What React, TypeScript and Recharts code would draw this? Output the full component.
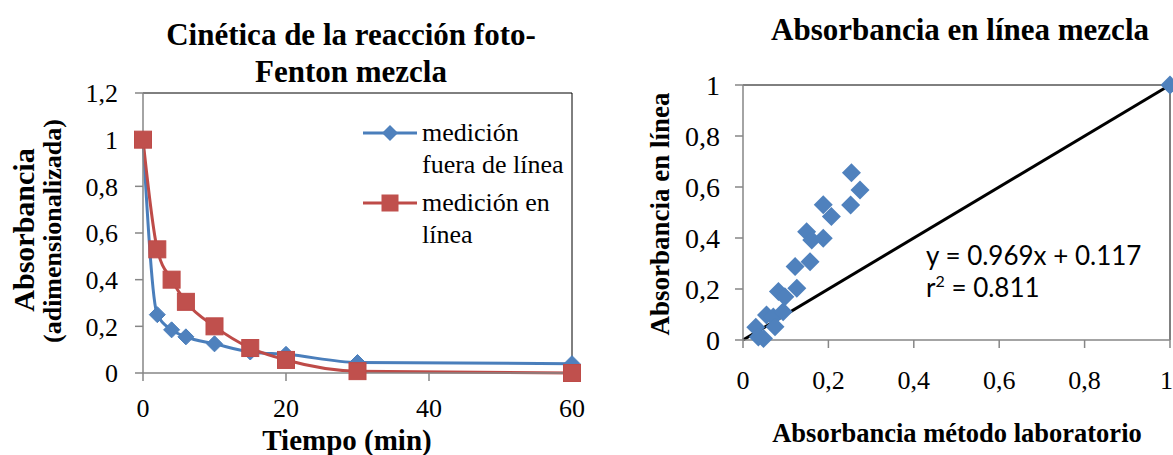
import {
  Legend,
  Line,
  LineChart,
  ReferenceLine,
  Scatter,
  ScatterChart,
  XAxis,
  YAxis,
} from "recharts";

// Cinética de la reacción foto-Fenton mezcla
const tiempo = [0, 2, 4, 6, 10, 15, 20, 30, 60];
const fueraDeLinea = [1, 0.25, 0.185, 0.155, 0.125, 0.09, 0.08, 0.045, 0.04];
const enLinea = [1, 0.53, 0.4, 0.305, 0.2, 0.107, 0.056, 0.008, 0.0];
const tiempoTicks = [0, 20, 40, 60];
const absTicks = [0, 0.2, 0.4, 0.6, 0.8, 1, 1.2];

// Absorbancia en línea mezcla
const metodoLab = [
  0.03, 0.036, 0.048, 0.055, 0.071, 0.075, 0.083, 0.094, 0.098, 0.122, 0.126,
  0.149, 0.157, 0.161, 0.188, 0.188, 0.207, 0.252, 0.254, 0.274, 1.0,
];
const medidaEnLinea = [
  0.05, 0.012, 0.006, 0.098, 0.09, 0.052, 0.19, 0.111, 0.17, 0.288, 0.203,
  0.425, 0.307, 0.392, 0.53, 0.399, 0.484, 0.529, 0.656, 0.588, 1.0,
];
const unitTicks = [0, 0.2, 0.4, 0.6, 0.8, 1];
const trendX = [0, 1];
const trendY = [0, 1];

const SERIF = '"Liberation Serif", "Times New Roman", serif';
const BLUE = "#4A7EBB";
const BLUE_FILL = "#4F81BD";
const RED = "#BE4B48";
const RED_FILL = "#C0504D";
const AXIS = "#868686";

const comma = (v: number) => String(v).replace(".", ",");

const kinetics = tiempo.map((t, i) => ({
  t,
  fuera: fueraDeLinea[i],
  linea: enLinea[i],
}));
const scatterRows = metodoLab.map((x, i) => ({ x, y: medidaEnLinea[i] }));

function diamond(cx: number, cy: number, r: number) {
  return `M${cx},${cy - r}L${cx + r},${cy}L${cx},${cy + r}L${cx - r},${cy}Z`;
}

const blueDot = (p: any) => (
  <path key={`b${p.index}`} d={diamond(p.cx, p.cy, 8)} fill={BLUE_FILL} stroke={BLUE} strokeWidth={1} />
);
const redDot = (p: any) => (
  <rect key={`r${p.index}`} x={p.cx - 8.5} y={p.cy - 8.5} width={17} height={17} fill={RED_FILL} stroke={RED} strokeWidth={1} />
);

const tickStyle = (size: number) => ({ fill: "#000", fontSize: size, fontFamily: SERIF });

function KineticsLegend() {
  const items = [
    { color: BLUE, marker: "d", lines: ["medición", "fuera de línea"] },
    { color: RED, marker: "s", lines: ["medición en", "línea"] },
  ];
  return (
    <div style={{ fontFamily: SERIF }}>
      {items.map((it) => (
        <div key={it.lines[0] + it.marker} style={{ display: "flex", marginBottom: 6 }}>
          <svg width={59} height={32}>
            <line x1={0} y1={16} x2={54} y2={16} stroke={it.color} strokeWidth={3} />
            {it.marker === "d" ? (
              <path d={diamond(27, 16, 8)} fill={BLUE_FILL} />
            ) : (
              <rect x={18.5} y={7.5} width={17} height={17} fill={RED_FILL} />
            )}
          </svg>
          <div style={{ fontSize: 26, lineHeight: "32px", color: "#000", fontFamily: SERIF }}>
            {it.lines.map((l) => (
              <div key={l}>{l}</div>
            ))}
          </div>
        </div>
      ))}
    </div>
  );
}

const abs = (extra: React.CSSProperties): React.CSSProperties => ({
  position: "absolute",
  fontWeight: "bold",
  color: "#000",
  whiteSpace: "nowrap",
  textAlign: "center",
  fontFamily: SERIF,
  ...extra,
});

export default function App() {
  return (
    <div
      style={{
        position: "absolute",
        left: 0,
        top: 0,
        width: 1173,
        height: 455,
        background: "#fff",
        fontFamily: SERIF,
        overflow: "hidden",
      }}
    >
      <LineChart
        width={600}
        height={455}
        data={kinetics}
        margin={{ top: 93, right: 28, bottom: 0, left: 0 }}
        style={{ fontFamily: SERIF }}
      >
        <XAxis
          dataKey="t"
          type="number"
          domain={[0, 60]}
          ticks={tiempoTicks}
          height={82}
          stroke={AXIS}
          strokeWidth={1.5}
          tickSize={8}
          tickMargin={18}
          tick={tickStyle(26)}
        />
        <YAxis
          type="number"
          domain={[0, 1.2]}
          ticks={absTicks}
          width={143}
          stroke={AXIS}
          strokeWidth={1.5}
          tickSize={8}
          tickMargin={17}
          tickFormatter={comma}
          tick={tickStyle(26)}
        />
        <ReferenceLine y={1.2} stroke="#000" strokeWidth={1} />
        <ReferenceLine x={60} stroke="#000" strokeWidth={1} />
        <Line
          dataKey="fuera"
          name="medición fuera de línea"
          type="monotone"
          stroke={BLUE}
          strokeWidth={3}
          dot={blueDot}
          activeDot={false}
          isAnimationActive={false}
        />
        <Line
          dataKey="linea"
          name="medición en línea"
          type="monotone"
          stroke={RED}
          strokeWidth={3}
          dot={redDot}
          activeDot={false}
          isAnimationActive={false}
        />
        <Legend
          layout="horizontal"
          verticalAlign="middle"
          align="center"
          content={() => <KineticsLegend />}
          wrapperStyle={{ left: 363, top: 117, width: 215 }}
        />
      </LineChart>

      <div style={{ position: "absolute", left: 600, top: 0 }}>
        <ScatterChart
          width={573}
          height={455}
          margin={{ top: 85, right: 3, bottom: 0, left: 0 }}
          style={{ fontFamily: SERIF }}
        >
          <XAxis
            dataKey="x"
            type="number"
            domain={[0, 1]}
            ticks={unitTicks}
            height={115}
            stroke={AXIS}
            strokeWidth={1.5}
            tickSize={8}
            tickMargin={23}
            tickFormatter={comma}
            tick={tickStyle(26)}
          />
          <YAxis
            dataKey="y"
            type="number"
            domain={[0, 1]}
            ticks={unitTicks}
            width={143}
            stroke={AXIS}
            strokeWidth={1.5}
            tickSize={8}
            tickMargin={15}
            tickFormatter={comma}
            tick={tickStyle(28)}
          />
          <ReferenceLine y={1} stroke="#000" strokeWidth={1} />
          <ReferenceLine x={1} stroke="#000" strokeWidth={1} />
          <ReferenceLine
            segment={[
              { x: trendX[0], y: trendY[0] },
              { x: trendX[1], y: trendY[1] },
            ]}
            stroke="#000"
            strokeWidth={3}
          />
          <Scatter
            data={scatterRows}
            fill={BLUE_FILL}
            isAnimationActive={false}
            shape={(p: any) => <path d={diamond(p.cx, p.cy, 9.5)} fill={BLUE_FILL} />}
          />
        </ScatterChart>
      </div>

      {/* titles and axis captions */}
      <div style={abs({ left: 151, top: 16, width: 400, fontSize: 31, lineHeight: "37px" })}>
        Cinética de la reacción foto-
        <br />
        Fenton mezcla
      </div>
      <div style={abs({ left: 760, top: 11, width: 400, fontSize: 31, lineHeight: "37px" })}>
        Absorbancia en línea mezcla
      </div>
      <div
        style={abs({
          left: 24 - 150,
          top: 230 - 18,
          width: 300,
          height: 36,
          fontSize: 30,
          lineHeight: "36px",
          transform: "rotate(-90deg)",
        })}
      >
        Absorbancia
      </div>
      <div
        style={abs({
          left: 53 - 150,
          top: 231 - 16,
          width: 300,
          height: 32,
          fontSize: 26,
          lineHeight: "32px",
          transform: "rotate(-90deg)",
        })}
      >
        (adimensionalizada)
      </div>
      <div style={abs({ left: 197, top: 425, width: 300, height: 30, fontSize: 29, lineHeight: "30px" })}>
        Tiempo (min)
      </div>
      <div
        style={abs({
          left: 660 - 180,
          top: 214 - 17,
          width: 360,
          height: 34,
          fontSize: 27,
          lineHeight: "34px",
          transform: "rotate(-90deg)",
        })}
      >
        Absorbancia en línea
      </div>
      <div style={abs({ left: 757, top: 416, width: 400, fontSize: 26.5, lineHeight: "34px" })}>
        Absorbancia método laboratorio
      </div>
      <div
        style={{
          position: "absolute",
          left: 926,
          top: 239,
          fontFamily: "Lato, sans-serif",
          fontSize: 26,
          lineHeight: "32px",
          color: "#000",
          whiteSpace: "nowrap",
        }}
      >
        <div>y = 0.969x + 0.117</div>
        <div>
          r<sup style={{ fontSize: 16, verticalAlign: "10px", lineHeight: 0 }}>2</sup> = 0.811
        </div>
      </div>
    </div>
  );
}
